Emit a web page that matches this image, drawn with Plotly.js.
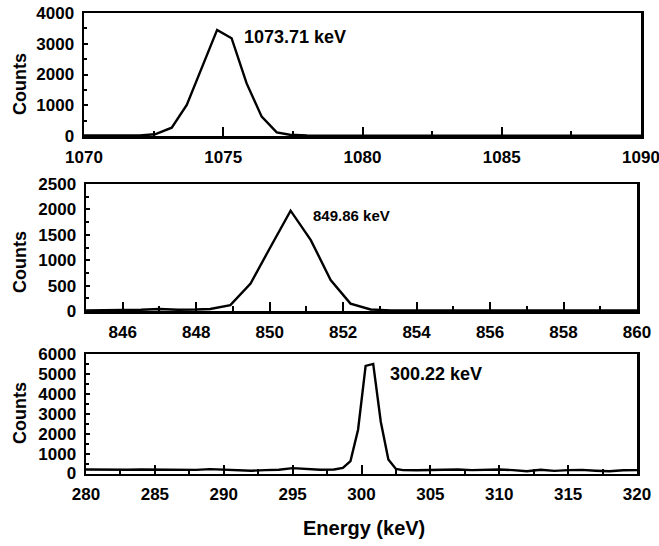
<!DOCTYPE html>
<html>
<head>
<meta charset="utf-8">
<script src="https://cdn.plot.ly/plotly-3.0.1.min.js"></script>
<style>html,body{margin:0;padding:0;background:#fff;}#chart{width:659px;height:546px;}</style>
</head>
<body>
<div id="chart"></div>
<script>
// Panel 1: 1073.71 keV peak
var energy1 = [1070, 1070.5, 1071, 1071.5, 1072, 1072.55, 1073.15, 1073.69, 1074.22, 1074.78, 1075.30, 1075.84, 1076.38, 1076.92, 1077.39, 1078, 1079, 1080, 1082, 1084, 1086, 1088, 1090];
var counts1 = [20, 15, 25, 15, 20, 55, 270, 1010, 2200, 3450, 3180, 1710, 630, 120, 40, 15, 10, 10, 10, 10, 10, 10, 10];

// Panel 2: 849.86 keV peak
var energy2 = [845, 845.5, 846, 846.5, 847, 847.5, 848, 848.38, 848.93, 849.48, 850.03, 850.57, 851.12, 851.66, 852.2, 852.75, 853.3, 854, 855, 856, 857, 858, 859, 860];
var counts2 = [10, 15, 15, 25, 40, 25, 30, 40, 115, 540, 1270, 1975, 1395, 610, 145, 30, 10, 10, 10, 10, 10, 10, 10, 10];

// Panel 3: 300.22 keV peak
var energy3 = [280, 281, 282, 283, 284, 285, 286, 287, 288, 289, 290, 291, 292, 293, 294, 295, 296, 297, 298, 298.65, 299.2, 299.75, 300.3, 300.85, 301.4, 301.95, 302.5, 303, 304, 305, 306, 307, 308, 309, 310, 311, 312, 313, 314, 315, 316, 317, 318, 319, 320];
var counts3 = [200, 190, 195, 185, 200, 190, 200, 205, 180, 220, 190, 170, 140, 170, 190, 270, 230, 190, 200, 280, 620, 2200, 5400, 5500, 2600, 700, 230, 170, 160, 170, 180, 200, 170, 190, 200, 170, 110, 190, 130, 170, 180, 140, 110, 160, 170];

var peakLabels = ["1073.71 keV", "849.86 keV", "300.22 keV"];
var yTitle = "Counts";
var xTitle = "Energy (keV)";

var FONT = "Liberation Sans, Arial, sans-serif";
var W = 659, H = 546;

function trace(x, y, xa, ya) {
  return {x: x, y: y, xaxis: xa, yaxis: ya, type: 'scatter', mode: 'lines',
    line: {color: '#000', width: 2.4}, hoverinfo: 'skip', showlegend: false};
}

function xax(range, dtick, minorDtick, domain, anchor) {
  return {domain: domain, anchor: anchor, range: range, dtick: dtick, tick0: 0,
    showgrid: false, zeroline: false, showline: true, mirror: true, linecolor: '#000', linewidth: 2.5,
    ticks: 'inside', ticklen: 9, tickwidth: 2, tickcolor: '#000', ticklabelstandoff: 4,
    ticklabeloverflow: 'allow',
    minor: {ticks: 'inside', ticklen: 5, tickwidth: 2, tickcolor: '#000', dtick: minorDtick, tick0: 0, showgrid: false},
    tickfont: {family: FONT, size: 17, color: '#000', weight: 'bold'}, fixedrange: true};
}
function yax(range, dtick, minorDtick, domain, anchor) {
  return {domain: domain, anchor: anchor, range: range, dtick: dtick, tick0: 0,
    showgrid: false, zeroline: false, showline: true, mirror: true, linecolor: '#000', linewidth: 2.5,
    ticks: 'inside', ticklen: 4, tickwidth: 2, tickcolor: '#000', ticklabelstandoff: 4,
    ticklabeloverflow: 'allow',
    minor: {ticks: 'inside', ticklen: 3, tickwidth: 2, tickcolor: '#000', dtick: minorDtick, tick0: 0, showgrid: false},
    tickfont: {family: FONT, size: 17, color: '#000', weight: 'bold'}, fixedrange: true};
}

var d1x = [84 / W, 641 / W], d23x = [86 / W, 637 / W];
var d1y = [1 - 136 / H, 1 - 13 / H];
var d2y = [1 - 311 / H, 1 - 184 / H];
var d3y = [1 - 473.5 / H, 1 - 354 / H];

var data = [
  trace(energy1, counts1, 'x', 'y'),
  trace(energy2, counts2, 'x2', 'y2'),
  trace(energy3, counts3, 'x3', 'y3')
];

function ann(text, x, y, size, extra) {
  var a = {text: text, x: x, y: y, xref: 'paper', yref: 'paper', showarrow: false,
    font: {family: FONT, size: size, color: '#000', weight: 'bold'}};
  for (var k in extra) a[k] = extra[k];
  return a;
}

var layout = {
  width: W, height: H,
  margin: {l: 0, r: 0, t: 0, b: 0},
  paper_bgcolor: '#fff', plot_bgcolor: '#fff',
  xaxis: xax([1070, 1090], 5, 2.5, d1x, 'y'),
  yaxis: yax([0, 4000], 1000, 500, d1y, 'x'),
  xaxis2: xax([845, 860], 2, 1, d23x, 'y2'),
  yaxis2: yax([0, 2500], 500, 250, d2y, 'x2'),
  xaxis3: xax([280, 320], 5, 2.5, d23x, 'y3'),
  yaxis3: yax([0, 6000], 1000, 500, d3y, 'x3'),
  annotations: [
    ann(peakLabels[0], 242 / W, 1 - 37.5 / H, 18, {xanchor: 'left', yanchor: 'middle'}),
    ann(peakLabels[1], 311 / W, 1 - 216 / H, 15, {xanchor: 'left', yanchor: 'middle'}),
    ann(peakLabels[2], 388 / W, 1 - 373.5 / H, 18, {xanchor: 'left', yanchor: 'middle'}),
    ann(yTitle, 20 / W, 1 - 84 / H, 18, {textangle: -90, xanchor: 'center', yanchor: 'middle'}),
    ann(yTitle, 20 / W, 1 - 262 / H, 18, {textangle: -90, xanchor: 'center', yanchor: 'middle'}),
    ann(yTitle, 20 / W, 1 - 413 / H, 18, {textangle: -90, xanchor: 'center', yanchor: 'middle'}),
    ann(xTitle, 364 / W, 1 - 528 / H, 20, {xanchor: 'center', yanchor: 'middle'})
  ]
};

Plotly.newPlot('chart', data, layout, {staticPlot: true, displayModeBar: false});
</script>
</body>
</html>
